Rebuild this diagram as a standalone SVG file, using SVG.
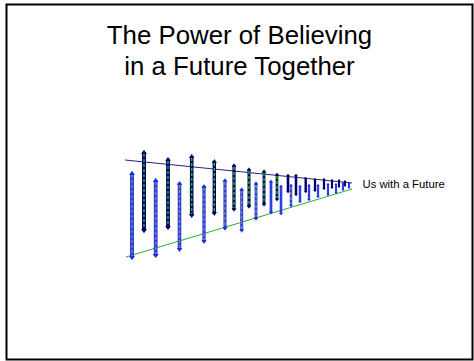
<svg xmlns="http://www.w3.org/2000/svg" width="474" height="361" viewBox="0 0 474 361">
<style>
.title{font-family:"Liberation Sans",Arial,sans-serif;font-size:25.8px;fill:#000;text-anchor:middle}
.lbl{font-family:"Liberation Sans",Arial,sans-serif;font-size:11.3px;fill:#000}
.d{stroke:#000066;fill:none;marker-start:url(#capD);marker-end:url(#capD)}
.di{stroke:#22bb22;stroke-width:1.4;stroke-dasharray:3 2;fill:none}
.l{stroke:#2b40e0;fill:none;marker-start:url(#capL);marker-end:url(#capL)}
.li{stroke:#8c8c80;stroke-width:1.2;stroke-dasharray:3 2;fill:none}
</style>
<defs>
<marker id="capD" viewBox="0 0 6 8" refX="3" refY="4" markerWidth="1.15" markerHeight="1.6" orient="auto-start-reverse" markerUnits="strokeWidth"><path d="M0,0 L6,4 L0,8 Z" fill="#000066"/></marker>
<marker id="capL" viewBox="0 0 6 8" refX="3" refY="4" markerWidth="1.15" markerHeight="1.6" orient="auto-start-reverse" markerUnits="strokeWidth"><path d="M0,0 L6,4 L0,8 Z" fill="#1a2ee0"/></marker>
</defs>
<rect x="6.5" y="4.5" width="466" height="355" fill="#fff" stroke="#000" stroke-width="2"/>
<g id="title">
<text class="title" x="239.5" y="44">The Power of Believing</text>
<text class="title" x="239.5" y="75">in a Future Together</text>
</g>
<g id="lines">
<line x1="125" y1="160" x2="352" y2="183" stroke="#222288" stroke-width="1"/>
<line x1="126" y1="257" x2="352" y2="189" stroke="#33aa33" stroke-width="1"/>
</g>
<g id="bars">
<line class="d" x1="144" y1="152" x2="144" y2="231" stroke-width="4"/><line class="di" x1="144" y1="154" x2="144" y2="229"/>
<line class="d" x1="168" y1="159" x2="168" y2="228" stroke-width="3.8"/><line class="di" x1="168" y1="161" x2="168" y2="226"/>
<line class="d" x1="191.7" y1="156" x2="191.7" y2="216" stroke-width="3.6"/><line class="di" x1="191.7" y1="158" x2="191.7" y2="214"/>
<line class="d" x1="214.3" y1="161" x2="214.3" y2="214" stroke-width="3.4"/><line class="di" x1="214.3" y1="163" x2="214.3" y2="212"/>
<line class="d" x1="234" y1="165" x2="234" y2="210" stroke-width="3.2"/><line class="di" x1="234" y1="167" x2="234" y2="208"/>
<line class="d" x1="249" y1="169" x2="249" y2="207" stroke-width="3"/><line class="di" x1="249" y1="171" x2="249" y2="205"/>
<line class="d" x1="264" y1="171" x2="264" y2="205" stroke-width="2.9"/><line class="di" x1="264" y1="173" x2="264" y2="203"/>
<line class="d" x1="277" y1="174" x2="277" y2="200" stroke-width="2.7"/><line class="di" x1="277" y1="176" x2="277" y2="198"/>
<line class="d" x1="288" y1="175" x2="288" y2="192" stroke-width="2.6"/>
<line class="d" x1="296" y1="175" x2="296" y2="195" stroke-width="2.5"/>
<line class="d" x1="305.7" y1="178" x2="305.7" y2="192" stroke-width="2.4"/>
<line class="d" x1="315" y1="179" x2="315" y2="191" stroke-width="2.3"/>
<line class="d" x1="324" y1="179" x2="324" y2="189" stroke-width="2.2"/>
<line class="d" x1="332" y1="180" x2="332" y2="188" stroke-width="2.1"/>
<line class="d" x1="339" y1="180" x2="339" y2="187" stroke-width="2"/>
<line class="d" x1="345" y1="181" x2="345" y2="186" stroke-width="2"/>
<line class="l" x1="132" y1="173" x2="132" y2="258" stroke-width="4"/><line class="li" x1="132" y1="175" x2="132" y2="256"/>
<line class="l" x1="155.7" y1="180" x2="155.7" y2="256" stroke-width="3.8"/><line class="li" x1="155.7" y1="182" x2="155.7" y2="254"/>
<line class="l" x1="179.5" y1="183" x2="179.5" y2="250" stroke-width="3.6"/><line class="li" x1="179.5" y1="185" x2="179.5" y2="248"/>
<line class="l" x1="204" y1="186" x2="204" y2="242" stroke-width="3.35"/><line class="li" x1="204" y1="188" x2="204" y2="240"/>
<line class="l" x1="225" y1="180" x2="225" y2="229" stroke-width="3.15"/><line class="li" x1="225" y1="182" x2="225" y2="227" stroke="#b0b040"/>
<line class="l" x1="241.7" y1="189" x2="241.7" y2="231" stroke-width="3"/><line class="li" x1="241.7" y1="191" x2="241.7" y2="229"/>
<line class="l" x1="256" y1="183" x2="256" y2="219" stroke-width="2.85"/><line class="li" x1="256" y1="185" x2="256" y2="217" stroke="#b0b040"/>
<line class="l" x1="271" y1="181" x2="271" y2="213" stroke-width="2.7" stroke="#2233ee"/>
<line class="l" x1="281" y1="186" x2="281" y2="214" stroke-width="2.6" stroke="#2233ee"/>
<line class="l" x1="291" y1="185" x2="291" y2="206" stroke-width="2.5"/><line class="li" x1="291" y1="187" x2="291" y2="204" stroke="#c0c040"/>
<line class="l" x1="300" y1="186" x2="300" y2="202" stroke-width="2.45" stroke="#1a2ee0"/>
<line class="l" x1="309" y1="185" x2="309" y2="200" stroke-width="2.35" stroke="#1a2ee0"/>
<line class="l" x1="318" y1="185" x2="318" y2="197" stroke-width="2.3" stroke="#1a2ee0"/>
<line class="l" x1="328" y1="184" x2="328" y2="195" stroke-width="2.2" stroke="#1a2ee0"/>
<line class="l" x1="336" y1="184" x2="336" y2="193" stroke-width="2.1" stroke="#1a2ee0"/>
<line class="l" x1="343" y1="183" x2="343" y2="190" stroke-width="2.05" stroke="#1a2ee0"/>
<line class="l" x1="349" y1="183" x2="349" y2="188" stroke-width="2" stroke="#1a2ee0"/>
</g>
<g id="label">
<text class="lbl" x="362.5" y="188">Us with a Future</text>
</g>
</svg>
